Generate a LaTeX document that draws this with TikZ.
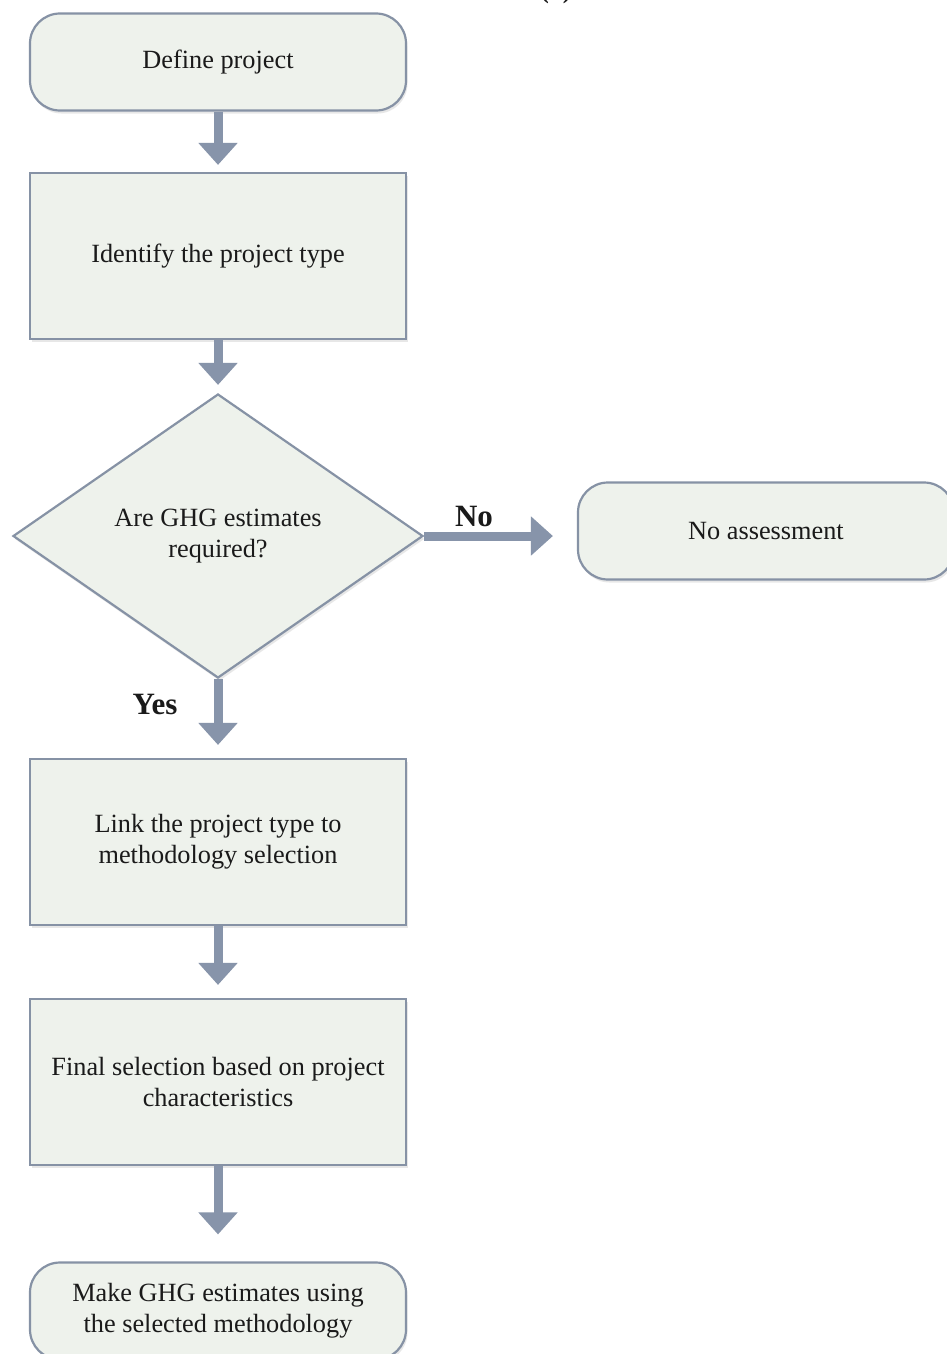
\documentclass[tikz,border=0pt]{standalone}
\usepackage{fontspec}
\setmainfont{Liberation Serif}
\usetikzlibrary{arrows.meta,shapes.geometric,shadows}
\definecolor{boxfill}{HTML}{EEF2EC}
\definecolor{boxline}{HTML}{8692A5}
\definecolor{flow}{HTML}{8794AA}
\definecolor{ink}{HTML}{1A1A1A}
\tikzset{
  base/.style={draw=boxline, line width=2.2pt, fill=boxfill, text=ink,
    font=\fontsize{26.3}{31}\selectfont, align=center, inner sep=0pt,
    drop shadow={shadow xshift=1.5pt, shadow yshift=-3pt, fill=black!18}},
  terminal/.style={base, rounded corners=30pt, minimum width=376pt, minimum height=97pt},
  process/.style={base, minimum width=376pt, minimum height=166pt},
  decision/.style={base, diamond, minimum width=410pt, minimum height=284pt},
  flowarrow/.style={draw=flow, line width=9pt,
    -{Triangle[width=38pt,length=22pt]}, color=flow},
  answer/.style={font=\fontsize{31}{36}\selectfont\bfseries, text=ink, inner sep=0pt}
}
\begin{document}
\begin{tikzpicture}[x=1pt, y=-1pt]
  \useasboundingbox (0,0) rectangle (947,1354);
  \fill[white] (0,0) rectangle (947,1354);

  % caption fragment at the top edge
  \node[font=\fontsize{25}{30}\selectfont\bfseries, text=ink, anchor=base, inner sep=0pt]
    (tag) at (556,-1) {(b)};

  \node[terminal] (define)   at (218,62)   {Define project};
  \node[process]  (identify) at (218,256)  {Identify the project type};
  \node[decision] (ghg)      at (218,536)  {Are GHG estimates\\required?};
  \node[terminal] (none)     at (766,531)  {No assessment};
  \node[process]  (link)     at (218,842)  {Link the project type to\\methodology selection};
  \node[process]  (final)    at (218,1082) {Final selection based on project\\characteristics};
  \node[terminal] (make)     at (218,1311) {Make GHG estimates using\\the selected methodology};

  \draw[flowarrow, shorten >=7pt]  (define.south)   -- (identify.north);
  \draw[flowarrow, shorten >=8pt]  (identify.south) -- (ghg.north);
  \draw[flowarrow, shorten >=13pt] (ghg.south)      -- (link.north);
  \draw[flowarrow, shorten >=13pt] (link.south)     -- (final.north);
  \draw[flowarrow, shorten >=27pt] (final.south)    -- (make.north);
  \draw[flowarrow, shorten >=24pt] (ghg.east)       -- (ghg.east -| none.west);

  \node[answer] (no)  at (474,516) {No};
  \node[answer] (yes) at (155,704) {Yes};
\end{tikzpicture}
\end{document}
